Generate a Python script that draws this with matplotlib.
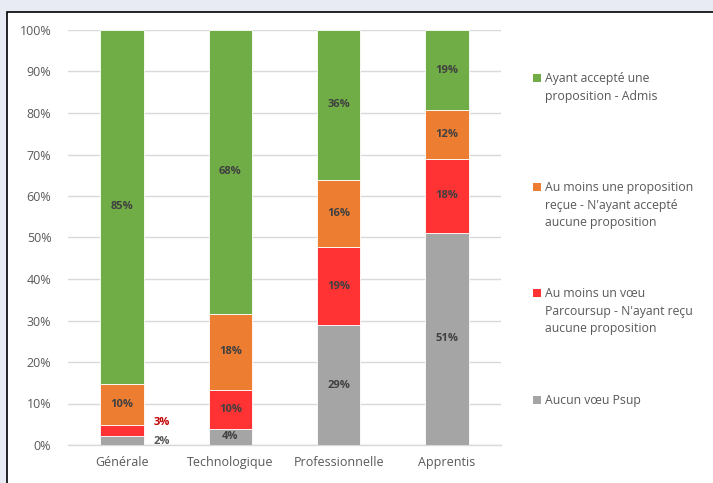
import matplotlib
matplotlib.use("Agg")
import matplotlib.pyplot as plt
from matplotlib.patches import Rectangle
import numpy as np

plt.rcParams['font.family'] = ['Open Sans', 'DejaVu Sans']

categories = ["Générale", "Technologique", "Professionnelle", "Apprentis"]
aucun_voeu = [2.2, 3.9, 28.9, 51.1]
voeu_sans_prop = [2.6, 9.4, 18.8, 17.8]
prop_non_acceptee = [9.9, 18.3, 16.2, 11.8]
admis = [85.3, 68.4, 36.1, 19.3]

lbl_aucun = ["2%", "4%", "29%", "51%"]
lbl_voeu = ["3%", "10%", "19%", "18%"]
lbl_prop = ["10%", "18%", "16%", "12%"]
lbl_admis = ["85%", "68%", "36%", "19%"]

series_names = ["Aucun vœu Psup",
                "Au moins un vœu\nParcoursup - N'ayant reçu\naucune proposition",
                "Au moins une proposition\nreçue - N'ayant accepté\naucune proposition",
                "Ayant accepté une\nproposition - Admis"]
colors = ["#a5a5a5", "#ff3333", "#ed7d31", "#70ad47"]

W, H = 713, 483
fig = plt.figure(figsize=(W/100, H/100), dpi=100)
fig.patch.set_facecolor("#e8ebf4")
# white panel with black border
panel = Rectangle((7/W, -0.1), 1.2, (H-12)/H + 0.1, transform=fig.transFigure,
                  facecolor="white", edgecolor="black", linewidth=1.2, zorder=-10)
fig.patches.append(panel)

ax = fig.add_axes([68/W, 1-445/H, (501-68)/W, (445-30)/H])
ax.set_zorder(5)
ax.set_facecolor("none")
x = np.arange(len(categories))
bw = 0.4
txt = "#404040"
bottom = np.zeros(len(categories))
data = [aucun_voeu, voeu_sans_prop, prop_non_acceptee, admis]
labels = [lbl_aucun, lbl_voeu, lbl_prop, lbl_admis]
for vals, labs, c in zip(data, labels, colors):
    vals = np.array(vals)
    ax.bar(x, vals, bw, bottom=bottom, color=c, edgecolor="white", linewidth=0.6, zorder=3)
    for i, (v, l) in enumerate(zip(vals, labs)):
        if i == 0 and v < 5:
            continue
        ax.text(x[i], bottom[i] + v/2, l, ha="center", va="center", fontsize=8,
                fontweight="bold", color=txt, zorder=4)
    bottom += vals

# small labels to the right of Générale bar
ax.text(x[0] + 0.37, aucun_voeu[0]/2 - 0.3, lbl_aucun[0], ha="center", va="center",
        fontsize=8, fontweight="bold", color="#595959", zorder=4)
ax.text(x[0] + 0.37, aucun_voeu[0] + voeu_sans_prop[0]/2 + 1.9, lbl_voeu[0], ha="center", va="center",
        fontsize=8, fontweight="bold", color="#c00000", zorder=4)

ax.set_xlim(-0.5, 3.5)
ax.set_ylim(0, 100)
ax.set_yticks(np.arange(0, 101, 10))
ax.set_yticklabels([f"{v}%" for v in range(0, 101, 10)])
ax.set_xticks(x)
ax.set_xticklabels(categories)
ax.tick_params(axis="both", length=0, labelsize=9, colors="#595959")
ax.tick_params(axis="y", pad=12)
ax.tick_params(axis="x", pad=8)
ax.grid(axis="y", color="#d9d9d9", linewidth=1, zorder=0)
for s in ["top", "right", "left"]:
    ax.spines[s].set_visible(False)
ax.spines["bottom"].set_color("#d9d9d9")
ax.spines["bottom"].set_linewidth(1)

# legend
leg_y = [78, 187, 293, 400]
leg_items = list(zip(series_names[::-1], colors[::-1]))
for (name, c), yy in zip(leg_items, leg_y):
    fig.patches.append(Rectangle((533/W, 1-(yy+4)/H), 8/W, 8/H, transform=fig.transFigure,
                                 facecolor=c, edgecolor="none"))
    fig.text(545/W, 1-(yy-6)/H, name, ha="left", va="top", fontsize=8.8, color="#595959",
             linespacing=1.45)

fig.savefig("out.png", dpi=100)
